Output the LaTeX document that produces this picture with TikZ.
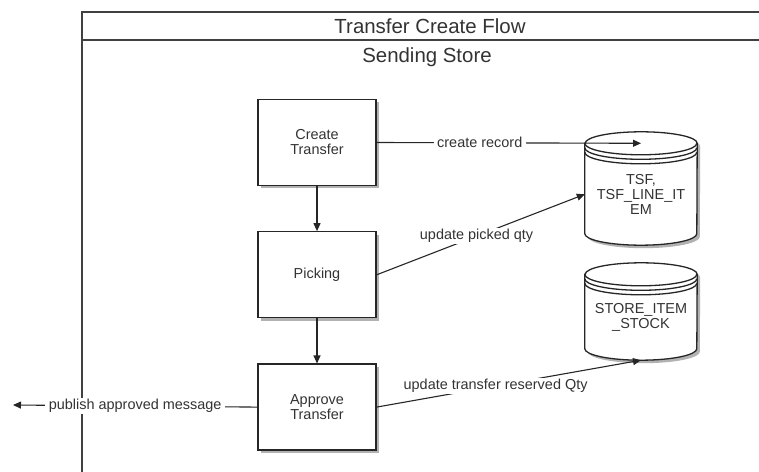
\documentclass[tikz,border=0pt]{standalone}
\usepackage{fontspec}
\setmainfont{Liberation Sans}
\usetikzlibrary{positioning,arrows.meta,shadows}
\definecolor{ink}{HTML}{333333}
\pgfdeclarelayer{background}
\pgfsetlayers{background,main}
\newcommand{\datastore}[1]{%
  \begin{pgfonlayer}{background}
  \draw[dbline,fill=white,drop shadow={shadow xshift=3bp,shadow yshift=-3bp,fill=black!30,opacity=1}]
    (#1.north west) -- ([yshift=11.5bp]#1.south west)
    arc[start angle=180,end angle=360,x radius=56bp,y radius=11.5bp]
    -- (#1.north east)
    arc[start angle=0,end angle=180,x radius=56bp,y radius=11.5bp] -- cycle;
  \foreach \d in {0,4.5,9}
    \draw[dbline] ([yshift=-\d bp]#1.north west)
      arc[start angle=180,end angle=360,x radius=56bp,y radius=11.5bp];
  \end{pgfonlayer}}

\begin{document}
\begin{tikzpicture}
[x=1bp,y=-1bp,%
  every node/.style={font=\fontsize{14.5}{15}\selectfont,text=ink},%
  stepbox/.style={draw=black!85,line width=1.3bp,fill=white,align=center,%
    minimum width=118bp,minimum height=86bp,%
    drop shadow={shadow xshift=3bp,shadow yshift=-3bp,fill=black!30,opacity=1}},%
  store/.style={minimum width=112bp,inner sep=0pt,align=center},%
  dbline/.style={draw=black!85,line width=1.3bp},%
  flow/.style={draw=black!85,line width=1.1bp,-{Triangle[length=8bp,width=7bp]}},%
  lbl/.style={fill=white,inner xsep=3.5bp,inner ysep=1.5bp},%
  frame/.style={draw=black!75,line width=2bp}]
\useasboundingbox (0,0) rectangle (759,472);
\draw[frame] (82,12) rectangle (800,500);
\draw[frame] (82,40) -- (800,40);
\node[font=\fontsize{20.5}{24}\selectfont] (title) at (430,26) {Transfer Create Flow};
\node[font=\fontsize{20.5}{24}\selectfont] (lane) at (427,57) {Sending Store};

\node[stepbox] (create) at (317,142.5) {Create\\Transfer};
\node[stepbox,below=45bp of create] (picking) {Picking};
\node[stepbox,below=45bp of picking] (approve) {Approve\\Transfer};

\node[store,minimum height=101.5bp] (tsf) at (641,194.25) {TSF,\\TSF\_LINE\_IT\\EM};
\node[store,minimum height=85.5bp] (stock) at (641,317.25) {STORE\_ITEM\\\_STOCK};
\datastore{tsf}
\datastore{stock}
\coordinate (out) at (13,405);

\draw[flow] (create) -- (picking);
\draw[flow] (picking) -- (approve);
\draw[flow] (create.east) -- node[lbl,pos=.39] {create record} (tsf.north);
\draw[flow] (picking.east) -- node[lbl,pos=.48] {update picked qty} (tsf.west);
\draw[flow] (approve.east) -- node[lbl,pos=.45] {update transfer reserved Qty} (stock.south);
\draw[flow] (approve.west) -- node[lbl,pos=.5] {publish approved message} (out);
\end{tikzpicture}
\end{document}
